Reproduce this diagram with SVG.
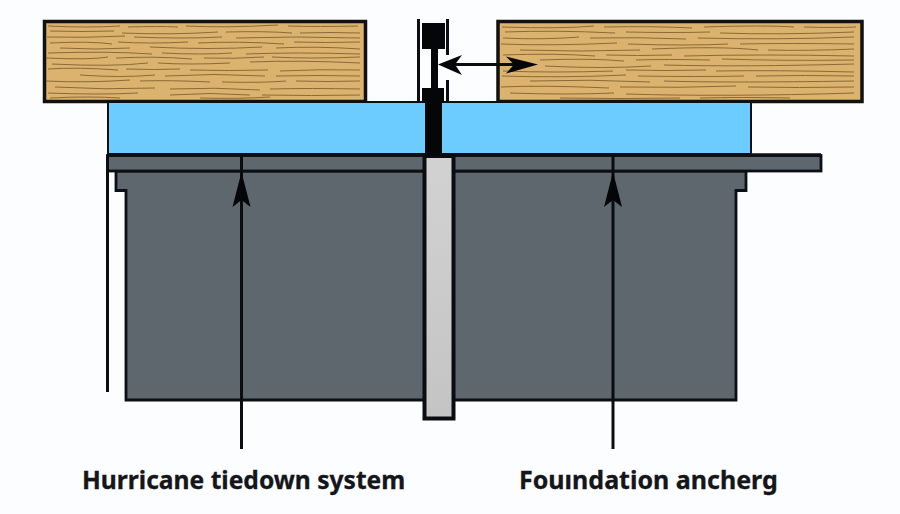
<svg xmlns="http://www.w3.org/2000/svg" width="900" height="514" viewBox="0 0 900 514">
<style>
.wood{fill:#dcb36e;stroke:#111;stroke-width:3.500}
.grain{fill:none;stroke:#8a6a38;stroke-width:1}
.steel{fill:#5f676e;stroke:#0c0f14;stroke-width:2.800}
.line{fill:none;stroke:#0a0d12;stroke-width:3}
.blk{fill:#050608}
.label{font-family:"Noto Sans","Open Sans",sans-serif;font-weight:700;fill:#14161a;stroke:#14161a;stroke-width:.3}
</style>
<defs>
<linearGradient id="pole" x1="0" x2="0" y1="0" y2="1"><stop offset="0" stop-color="#d2d2d2"/><stop offset="1" stop-color="#c4c4c4"/></linearGradient>
<g id="grainL">
<path class="grain" d="M48 26q40 2 72 0M128 27q30-1 50 0M186 26q40 2 92-1M288 26q30 1 70 0"/>
<path class="grain" d="M50 31q30 1 64 0M122 33q50 2 96-1M226 32q40-1 66 1M300 33q30-1 60 0"/>
<path class="grain" d="M47 37q40 1 78-1M134 37q50 2 88 0M236 38q60-2 124 0"/>
<path class="grain" d="M50 43q40-2 62 1M118 42q30 2 70 0M198 43q40-2 86 1M294 42q30 1 66 0"/>
<path class="grain" d="M60 48q35 2 70 0M150 47q60 3 112 0M276 48q40-2 84 1"/>
<path class="grain" d="M48 53q60-2 104 1M162 53q40 2 70 0M246 54q50-2 114 0"/>
<path class="grain" d="M46 58q45 2 62-1M116 58q40-2 76 1M204 58q30 1 60-1M272 57q40 2 88 0"/>
<path class="grain" d="M52 64q60 3 96-1M158 63q30 2 72 0M250 62q50-2 110 1"/>
<path class="grain" d="M48 69q30-2 70 1M126 69q30 1 54 0M190 70q40 1 78 0M280 71q40-2 80-1"/>
<path class="grain" d="M80 75q40 3 75 0M165 76q50-3 100 0M276 76q40-1 84 0"/>
<path class="grain" d="M46 81q40 2 84-1M140 81q30-1 70 1M222 82q40 1 64-1M296 81q30 1 64 0"/>
<path class="grain" d="M55 87q50 3 100 1M170 89q45-2 90 1M270 89q40-1 90 0"/>
<path class="grain" d="M48 93q50 2 90 0M170 95q40-3 80 0M262 95q50 1 98 0M50 98q40-2 70 0M200 98q40 1 70-1"/>
</g>
<g id="grainR">
<path class="grain" d="M502 27q60 2 92-1M604 27q50-1 88 1M704 27q60-2 90 0M804 27q30 1 52 0"/>
<path class="grain" d="M505 32q50-2 110 1M626 32q50 1 84 0M720 33q60 2 134-1"/>
<path class="grain" d="M503 38q40 2 76-1M590 38q50-1 96 1M698 38q80 2 156-1"/>
<path class="grain" d="M501 44q50 2 116-1M628 44q60 2 100 0M740 44q50-1 114 0"/>
<path class="grain" d="M520 50q60 2 120 0M652 49q70-3 106 1M768 50q40 1 86-1"/>
<path class="grain" d="M503 55q50-2 92 1M606 55q30 1 66 0M684 56q80-2 170 0"/>
<path class="grain" d="M540 60q50-2 84 1M636 60q30-1 74 0M722 59q60 2 132 1"/>
<path class="grain" d="M545 66q60 3 106 0M664 65q80 2 190-1"/>
<path class="grain" d="M503 71q50 2 110 0M626 70q40 1 80 0M716 71q60-1 138 1"/>
<path class="grain" d="M502 76q60 2 124-1M638 76q60 1 106 0M756 76q50-1 98 0"/>
<path class="grain" d="M530 81q60-2 120 1M664 81q60 2 190 0"/>
<path class="grain" d="M501 87q40-2 108 1M620 87q60 1 116-1M748 87q50 1 106 0"/>
<path class="grain" d="M510 93q60 2 104 0M626 94q100 3 228-1M560 98q60 1 120 0M700 98q40-1 90 0"/>
</g>
</defs>
<rect width="900" height="514" fill="#fcfdff"/>
<g id="wood-left"><rect class="wood" x="44.500" y="21.500" width="321" height="80"/><use href="#grainL"/></g>
<g id="wood-right"><rect class="wood" x="498" y="21.500" width="364" height="80"/><use href="#grainR"/></g>
<g id="membrane"><rect x="108" y="102" width="643" height="52" fill="#6ccbff" stroke="#0c0f14" stroke-width="2"/></g>
<g id="foundation">
<path class="steel" d="M116 171V190.500H126V400H736V190.500H746V171Z"/>
<rect class="steel" x="107.500" y="155.500" width="713.500" height="15.500"/>
<path d="M107 155H821" stroke="#0c0f14" stroke-width="3.500"/>
<path class="line" d="M107.500 155V392"/>
</g>
<g id="anchor">
<rect x="424.500" y="156" width="29" height="262.500" fill="url(#pole)" stroke="#0a0c10" stroke-width="4"/>
<path class="line" d="M418.500 19V102M447.500 19V55M447.500 80V102"/>
<rect class="blk" x="422" y="23" width="23" height="26"/>
<rect class="blk" x="431" y="48" width="7" height="42"/>
<rect class="blk" x="422" y="88" width="22" height="15"/>
<rect class="blk" x="425" y="102" width="17" height="54"/>
</g>
<g id="connectors">
<path class="line" d="M450 64.500H515" stroke-width="3.500"/>
<path class="blk" d="M438 64.500L462 55L455 64.500L462 75Z"/>
<path class="blk" d="M538 64.500L506 56.500L514 64.500L506 73.500Z"/>
<path class="line" d="M241.500 155V449"/>
<path class="blk" d="M241.500 172L250.500 207L241.500 200L232.500 207Z"/>
<path class="line" d="M613 155V449"/>
<path class="blk" d="M613 172L622 207L613 200L604 207Z"/>
</g>
<g id="labels">
<text class="label" x="82" y="489" font-size="24.600">Hurricane tiedown system</text>
<text class="label" x="519" y="489" font-size="25">Fouındation ancherg</text>
</g>
</svg>
